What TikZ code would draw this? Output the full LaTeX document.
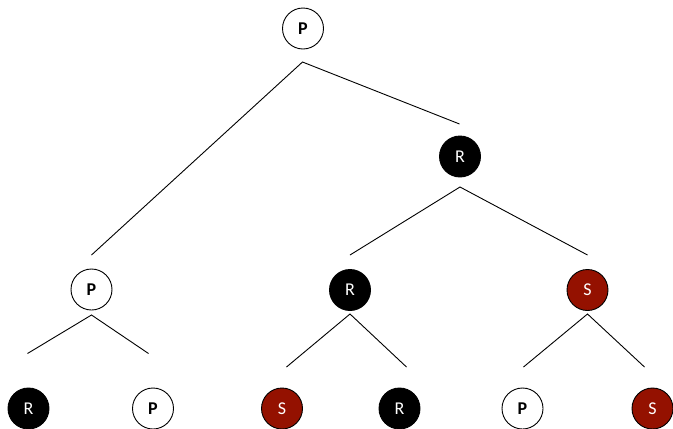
\documentclass[tikz,border=0pt]{standalone}
\usepackage{fontspec}
\setmainfont{Carlito}
\definecolor{darkred}{HTML}{941100}
\begin{document}
\begin{tikzpicture}[x=1pt,y=-1pt,
  nd/.style={circle,draw=black,line width=0.9pt,minimum size=41pt,inner sep=0pt,font=\fontsize{18}{21}\selectfont},
  pnode/.style={nd,fill=white,text=black,font=\fontsize{18}{21}\selectfont\bfseries},
  rnode/.style={nd,fill=black,text=white},
  snode/.style={nd,fill=darkred,text=white},
  edge/.style={line width=0.9pt,black}]
\useasboundingbox (0,0) rectangle (673,429);
% nodes
\node[pnode] (root) at (303,28.5) {P};
\node[rnode] (r1) at (460,156.5) {R};
\node[pnode] (p1) at (91.5,289.5) {P};
\node[rnode] (r2) at (350,290) {R};
\node[snode] (s1) at (587.5,290) {S};
\node[rnode] (b1) at (28.5,408.5) {R};
\node[pnode] (b2) at (153,408.5) {P};
\node[snode] (b3) at (282,408.5) {S};
\node[rnode] (b4) at (399.5,408.5) {R};
\node[pnode] (b5) at (522.5,408.5) {P};
\node[snode] (b6) at (652.5,408.5) {S};
% connector points
\coordinate (root-a) at (302.5,62);
\coordinate (root-l) at (91.5,255);
\coordinate (root-r) at (459.5,124);
\coordinate (r1-a) at (460,187);
\coordinate (r1-l) at (350,255);
\coordinate (r1-r) at (587.5,255);
\coordinate (p1-a) at (91.5,315);
\coordinate (p1-l) at (27.5,353.5);
\coordinate (p1-r) at (148.5,353.5);
\coordinate (r2-a) at (350,314);
\coordinate (r2-l) at (286.5,367);
\coordinate (r2-r) at (406.5,367);
\coordinate (s1-a) at (587.5,314);
\coordinate (s1-l) at (523.5,367);
\coordinate (s1-r) at (644.5,367);
% connectors
\draw[edge] (root-l) -- (root-a) -- (root-r);
\draw[edge] (r1-l) -- (r1-a) -- (r1-r);
\draw[edge] (p1-l) -- (p1-a) -- (p1-r);
\draw[edge] (r2-l) -- (r2-a) -- (r2-r);
\draw[edge] (s1-l) -- (s1-a) -- (s1-r);
\end{tikzpicture}
\end{document}
